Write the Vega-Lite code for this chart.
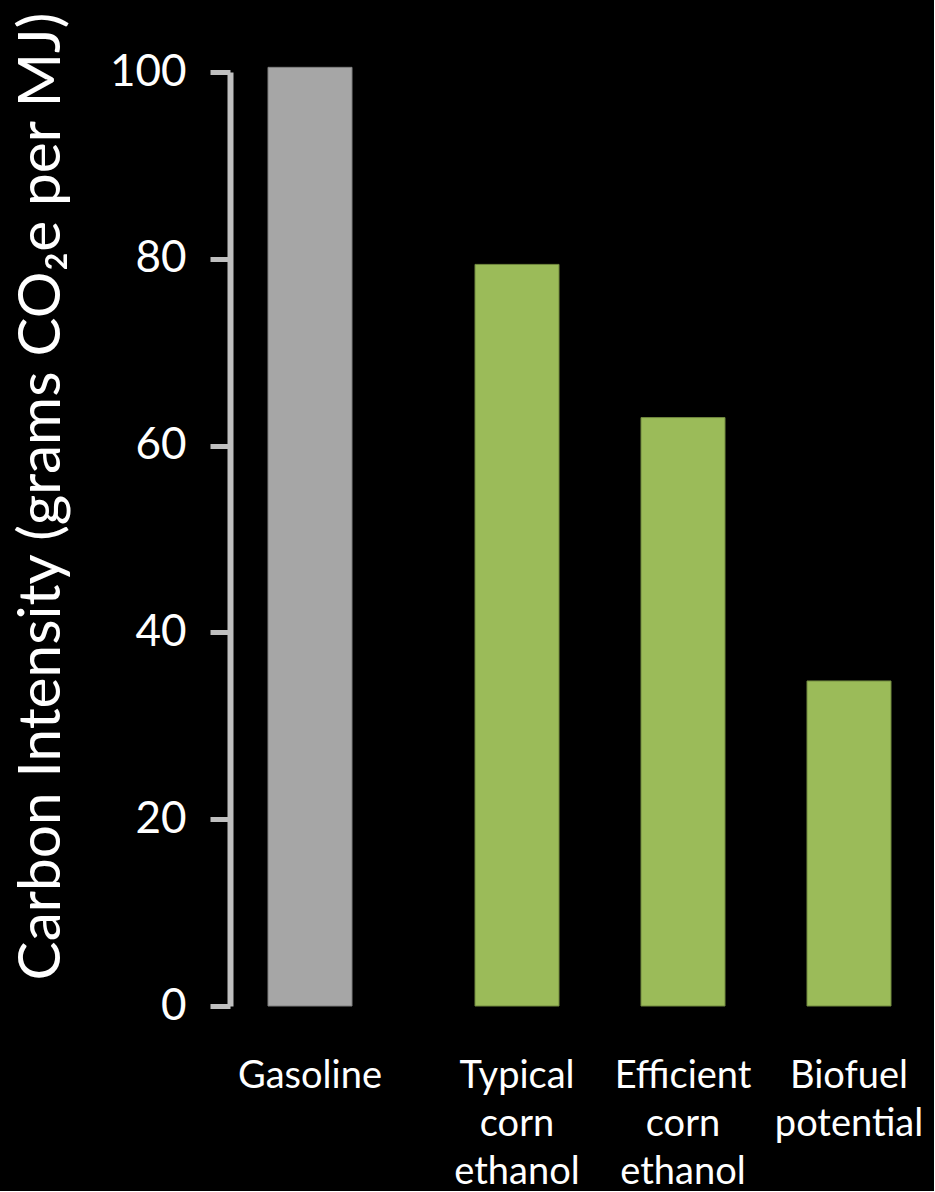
{
  "$schema": "https://vega.github.io/schema/vega-lite/v6.json",
  "background": "#000000",
  "padding": {"left": 12, "top": 10, "right": 2, "bottom": 0},
  "spacing": 44,
  "bounds": "flush",
  "config": {
    "view": {"stroke": null},
    "font": "Lato"
  },
  "data": {
    "values": [
      {"fuel": "Gasoline", "type": "fossil", "intensity": 100.5},
      {"fuel": "Typical corn ethanol", "type": "biofuel", "intensity": 79.4},
      {"fuel": "Efficient corn ethanol", "type": "biofuel", "intensity": 63.0},
      {"fuel": "Biofuel potential", "type": "biofuel", "intensity": 34.8}
    ]
  },
  "resolve": {"scale": {"y": "shared"}},
  "hconcat": [
    {
      "width": 160,
      "height": 934,
      "transform": [{"filter": "datum.type === 'fossil'"}],
      "mark": {"type": "bar", "size": 84, "strokeWidth": 1},
      "encoding": {
        "x": {
          "field": "fuel", "type": "nominal", "sort": null,
          "scale": {"paddingInner": 0, "paddingOuter": 0},
          "axis": {
            "title": null, "domain": false, "ticks": false, "labelAngle": 0,
            "labelColor": "#ffffff", "labelFontSize": 38, "labelPadding": 51,
            "labelLineHeight": 48, "labelExpr": "split(datum.label, ' ')"
          }
        },
        "y": {
          "field": "intensity", "type": "quantitative",
          "scale": {"domain": [0, 100], "nice": false},
          "axis": {
            "title": "Carbon Intensity (grams CO₂e per MJ)",
            "titleColor": "#ffffff", "titleFontSize": 58.5, "titleFontWeight": "normal",
            "titlePadding": 38, "titleY": 424,
            "values": [0, 20, 40, 60, 80, 100],
            "grid": false,
            "domainColor": "#bfbfbf", "domainWidth": 6,
            "tickColor": "#bfbfbf", "tickWidth": 5, "tickSize": 20,
            "labelColor": "#ffffff", "labelFontSize": 44, "labelPadding": 24
          }
        },
        "color": {
          "field": "type", "type": "nominal",
          "scale": {"domain": ["fossil", "biofuel"], "range": ["#a6a6a6", "#9bbb59"]},
          "legend": null
        },
        "stroke": {
          "field": "type", "type": "nominal",
          "scale": {"domain": ["fossil", "biofuel"], "range": ["#7f7f7f", "#71893f"]},
          "legend": null
        }
      }
    },
    {
      "width": 498,
      "height": 934,
      "transform": [{"filter": "datum.type === 'biofuel'"}],
      "mark": {"type": "bar", "size": 84, "strokeWidth": 1},
      "encoding": {
        "x": {
          "field": "fuel", "type": "nominal", "sort": null,
          "scale": {"paddingInner": 0, "paddingOuter": 0},
          "axis": {
            "title": null, "domain": false, "ticks": false, "labelAngle": 0,
            "labelColor": "#ffffff", "labelFontSize": 38, "labelPadding": 51,
            "labelLineHeight": 48, "labelExpr": "split(datum.label, ' ')"
          }
        },
        "y": {
          "field": "intensity", "type": "quantitative",
          "scale": {"domain": [0, 100], "nice": false},
          "axis": null
        },
        "color": {
          "field": "type", "type": "nominal",
          "scale": {"domain": ["fossil", "biofuel"], "range": ["#a6a6a6", "#9bbb59"]},
          "legend": null
        },
        "stroke": {
          "field": "type", "type": "nominal",
          "scale": {"domain": ["fossil", "biofuel"], "range": ["#7f7f7f", "#71893f"]},
          "legend": null
        }
      }
    }
  ]
}
